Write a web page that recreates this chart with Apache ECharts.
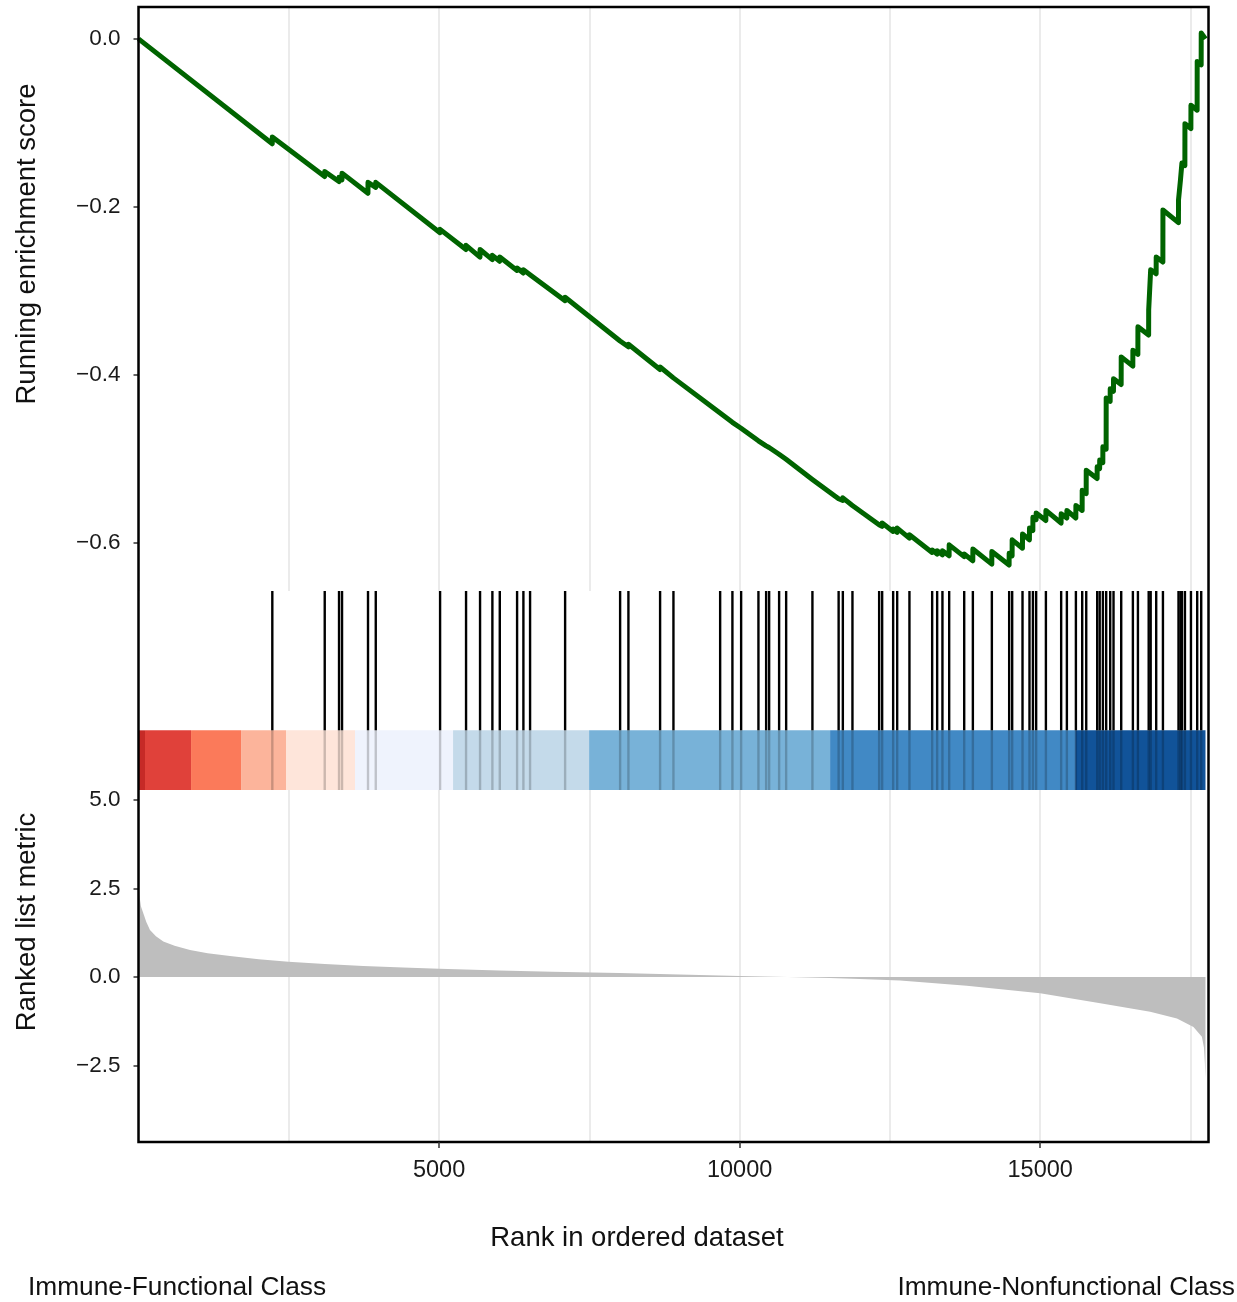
<!DOCTYPE html>
<html>
<head>
<meta charset="utf-8">
<title>GSEA running enrichment score</title>
<script src="https://cdn.jsdelivr.net/npm/echarts@6/dist/echarts.min.js"></script>
<style>
  html, body { margin: 0; padding: 0; background: #fff; }
  #chart { width: 1237px; height: 1302px; }
</style>
</head>
<body>
<div id="chart"></div>
<script>
// Number of genes in the ranked list
const N = 17750;

// Positions (rank) of the gene-set members in the ordered list
const hits = [2226, 3098, 3336, 3386, 3818, 3947, 5017, 5449, 5682, 5887, 6010,
  6298, 6403, 6514, 7097, 8012, 8150, 8677, 8899, 9676, 9880,
  10025, 10313, 10441, 10491, 10657, 10774, 11211, 11647, 11717, 11877,
  12321, 12371, 12554, 12621, 12825, 13203, 13286, 13374, 13486, 13736,
  13880, 14196, 14484, 14534, 14706, 14822, 14879, 14933, 15095, 15349,
  15444, 15594, 15699, 15766, 15948, 15990, 16043, 16098, 16165, 16220,
  16348, 16542, 16626, 16805, 16838, 16930, 17042, 17301, 17334, 17358,
  17408, 17508, 17612, 17679];

// Running enrichment score just before and just after each hit
const esBefore = [-0.125, -0.164, -0.170, -0.168, -0.184, -0.177, -0.231, -0.251, -0.260, -0.263, -0.265,
  -0.276, -0.279, -0.281, -0.312, -0.360, -0.367, -0.394, -0.404, -0.446, -0.457,
  -0.464, -0.479, -0.485, -0.487, -0.495, -0.501, -0.525, -0.548, -0.550, -0.556,
  -0.579, -0.581, -0.587, -0.588, -0.595, -0.612, -0.614, -0.615, -0.616, -0.617,
  -0.622, -0.626, -0.627, -0.616, -0.607, -0.597, -0.586, -0.573, -0.574, -0.577,
  -0.571, -0.571, -0.562, -0.542, -0.524, -0.512, -0.505, -0.489, -0.432, -0.420,
  -0.412, -0.390, -0.376, -0.353, -0.325, -0.280, -0.266, -0.219, -0.194, -0.169,
  -0.151, -0.107, -0.085, -0.031];
const esAfter = [-0.117, -0.158, -0.165, -0.160, -0.171, -0.171, -0.227, -0.246, -0.251, -0.258, -0.260,
  -0.273, -0.275, -0.279, -0.308, -0.359, -0.364, -0.391, -0.402, -0.445, -0.456,
  -0.463, -0.478, -0.484, -0.485, -0.494, -0.500, -0.523, -0.546, -0.547, -0.554,
  -0.578, -0.577, -0.584, -0.583, -0.591, -0.609, -0.610, -0.610, -0.603, -0.614,
  -0.608, -0.611, -0.613, -0.597, -0.590, -0.583, -0.570, -0.565, -0.562, -0.566,
  -0.562, -0.556, -0.538, -0.514, -0.510, -0.502, -0.486, -0.428, -0.417, -0.405,
  -0.379, -0.371, -0.343, -0.323, -0.275, -0.260, -0.204, -0.192, -0.168, -0.148,
  -0.101, -0.079, -0.027, 0.007];

// Ranked list metric along the ordered list
const metricRanks = [0, 15, 40, 80, 130, 191, 290, 413, 600, 857, 1150, 1522, 2000, 2493,
  3100, 3740, 4400, 5000, 6000, 6880, 8000, 9000, 10000, 10800, 11500, 12000, 12670,
  13780, 15000, 16000, 16830, 17275, 17550, 17690, 17725, 17740, 17750];
const metricValues = [2.65, 2.3, 2.0, 1.8, 1.55, 1.33, 1.15, 1.0, 0.88, 0.76, 0.67, 0.59, 0.5, 0.43,
  0.37, 0.31, 0.27, 0.235, 0.18, 0.15, 0.11, 0.07, 0.03, 0.0, -0.03, -0.06, -0.1,
  -0.25, -0.46, -0.74, -0.98, -1.17, -1.41, -1.69, -2.0, -2.44, -2.85];

// Colour band: rank boundaries of each metric bin
const bandEdges = [0, 108, 874, 1706, 2454, 3602, 5233, 7496, 11505, 15582, N];
const BAND_COLORS = ['#C62A27', '#E0413A', '#FB7A5A', '#FCB49B', '#FEE5DA',
  '#EFF3FD', '#C4DAEA', '#78B2D8', '#4189C5', '#115399'];

// Tick labels
const esTicks = [0, -0.2, -0.4, -0.6];
const metricTicks = [5, 2.5, 0, -2.5];
const rankTicks = [5000, 10000, 15000];

const XMAX = 17800;
const BAND_FRAC = 0.3;     // share of the middle panel taken by the colour band
const FONT = '"Liberation Sans", Arial, Helvetica, sans-serif';
const TICK_FONT = 22.5;
const XTICK_FONT = 23.5;
const TITLE_FONT = 27.5;
const CLASS_FONT = 26.3;

// running score polyline: start, steps at every hit, end
const esLine = [[0, 0]];
hits.forEach((h, i) => {
  esLine.push([h - 1, esBefore[i]]);
  esLine.push([h, esAfter[i]]);
});
esLine.push([N, 0]);

const metricLine = metricRanks.map((r, i) => [r, metricValues[i]]);
const bandData = bandEdges.slice(0, -1).map((s, i) => [s, bandEdges[i + 1], i]);
const hitData = hits.map(h => [h, 1]);

const fmtMinus = v => v.toFixed(1).replace('-', '\u2212');

const L = 138.5, W = 1070;
const grids = [
  { left: L, width: W, top: 7, height: 584 },
  { left: L, width: W, top: 591, height: 199 },
  { left: L, width: W, top: 790, height: 352 },
  { left: L, width: W, top: 7, height: 1135, show: true, borderColor: '#000',
    borderWidth: 2.5, backgroundColor: 'transparent', z: 10 }
];

const gridX = idx => ({
  type: 'value', gridIndex: idx, position: 'bottom', min: 0, max: XMAX, interval: 2500,
  axisLine: { show: false }, axisTick: { show: false }, axisLabel: { show: false },
  splitLine: { show: idx !== 1, lineStyle: { color: '#EBEBEB', width: 2 } }
});

const option = {
  animation: false,
  backgroundColor: '#fff',
  grid: grids,
  xAxis: [
    gridX(0),
    gridX(1),
    gridX(2),
    {
      type: 'value', gridIndex: 2, position: 'bottom', offset: 0, min: 0, max: XMAX,
      axisLine: { show: false },
      splitLine: { show: false },
      axisTick: { show: true, customValues: rankTicks, length: 6,
        lineStyle: { color: '#333', width: 1.5 } },
      axisLabel: { show: true, customValues: rankTicks, margin: 17, color: '#1a1a1a',
        fontSize: XTICK_FONT, fontFamily: FONT, formatter: v => String(v) },
      z: 12
    },
    { type: 'value', gridIndex: 3, min: 0, max: XMAX, show: false }
  ],
  yAxis: [
    {
      type: 'value', gridIndex: 0, min: -0.658, max: 0.038,
      axisLine: { show: false },
      splitLine: { show: false },
      axisTick: { show: true, customValues: esTicks, length: 5,
        lineStyle: { color: '#333', width: 1.5 } },
      axisLabel: { customValues: esTicks, margin: 18, color: '#1a1a1a',
        fontSize: TICK_FONT, fontFamily: FONT, formatter: fmtMinus }
    },
    { type: 'value', gridIndex: 1, min: 0, max: 1, show: false },
    {
      type: 'value', gridIndex: 2, min: -4.66, max: 5.28,
      axisLine: { show: false },
      splitLine: { show: false },
      axisTick: { show: true, customValues: metricTicks, length: 5,
        lineStyle: { color: '#333', width: 1.5 } },
      axisLabel: { customValues: metricTicks, margin: 18, color: '#1a1a1a',
        fontSize: TICK_FONT, fontFamily: FONT, formatter: fmtMinus }
    },
    { type: 'value', gridIndex: 3, min: 0, max: 1, show: false }
  ],
  series: [
    {
      name: 'Running enrichment score',
      type: 'line', xAxisIndex: 0, yAxisIndex: 0,
      data: esLine, showSymbol: false, symbol: 'none',
      lineStyle: { color: '#006400', width: 5, join: 'round' },
      z: 3
    },
    {
      name: 'Metric bins',
      type: 'custom', xAxisIndex: 1, yAxisIndex: 1,
      data: bandData, encode: { x: [0, 1] },
      renderItem: (params, api) => {
        const p0 = api.coord([api.value(0), BAND_FRAC]);
        const p1 = api.coord([api.value(1), 0]);
        return {
          type: 'rect',
          shape: { x: p0[0], y: p0[1], width: p1[0] - p0[0], height: p1[1] - p0[1] },
          style: { fill: BAND_COLORS[api.value(2)] }
        };
      },
      z: 2
    },
    {
      name: 'Hits',
      type: 'custom', xAxisIndex: 1, yAxisIndex: 1,
      data: hitData, encode: { x: 0, y: 1 },
      renderItem: (params, api) => {
        const x = api.value(0);
        const top = api.coord([x, 1]);
        const mid = api.coord([x, BAND_FRAC]);
        const bot = api.coord([x, 0]);
        return {
          type: 'group',
          children: [
            { type: 'line', shape: { x1: top[0], y1: top[1], x2: mid[0], y2: mid[1] },
              style: { stroke: '#000', lineWidth: 2.4 } },
            { type: 'line', shape: { x1: mid[0], y1: mid[1], x2: bot[0], y2: bot[1] },
              style: { stroke: 'rgba(0,0,0,0.2)', lineWidth: 2.4 } }
          ]
        };
      },
      z: 3
    },
    {
      name: 'Ranked list metric',
      type: 'line', xAxisIndex: 2, yAxisIndex: 2,
      data: metricLine, showSymbol: false, symbol: 'none',
      lineStyle: { width: 0, color: '#BEBEBE' },
      areaStyle: { color: '#BEBEBE', opacity: 1, origin: 0 },
      z: 2
    }
  ],
  graphic: [
    { type: 'text', x: 27, y: 244, rotation: Math.PI / 2,
      style: { text: 'Running enrichment score', fontSize: TITLE_FONT, fontFamily: FONT,
        fill: '#111', align: 'center', verticalAlign: 'middle' } },
    { type: 'text', x: 27, y: 922, rotation: Math.PI / 2,
      style: { text: 'Ranked list metric', fontSize: TITLE_FONT, fontFamily: FONT,
        fill: '#111', align: 'center', verticalAlign: 'middle' } },
    { type: 'text', x: 637, y: 1238,
      style: { text: 'Rank in ordered dataset', fontSize: TITLE_FONT, fontFamily: FONT,
        fill: '#111', align: 'center', verticalAlign: 'middle' } },
    { type: 'text', x: 28, y: 1288,
      style: { text: 'Immune-Functional Class', fontSize: CLASS_FONT, fontFamily: FONT,
        fill: '#111', align: 'left', verticalAlign: 'middle' } },
    { type: 'text', x: 1235, y: 1288,
      style: { text: 'Immune-Nonfunctional Class', fontSize: CLASS_FONT, fontFamily: FONT,
        fill: '#111', align: 'right', verticalAlign: 'middle' } }
  ]
};

const chart = echarts.init(document.getElementById('chart'), null, { renderer: 'canvas' });
chart.setOption(option);
</script>
</body>
</html>
